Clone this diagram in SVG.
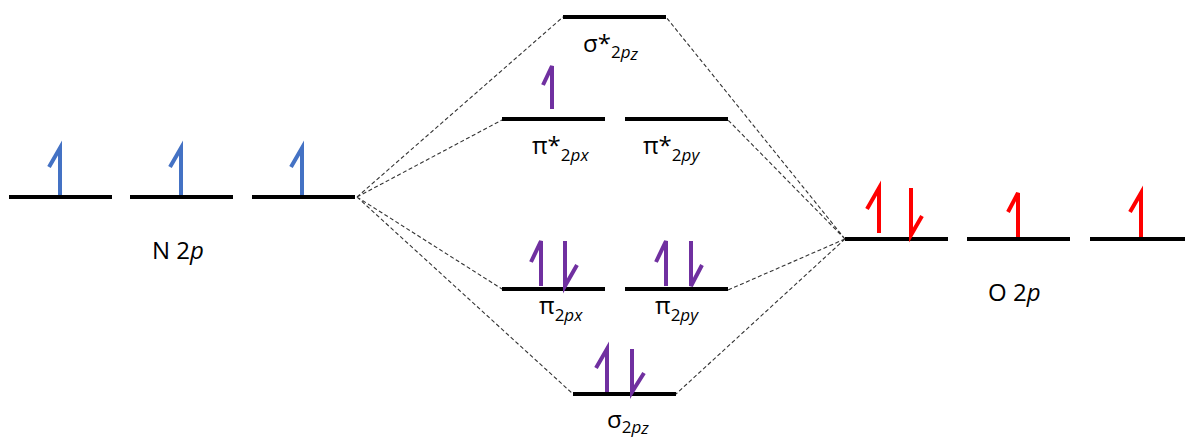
<svg xmlns="http://www.w3.org/2000/svg" width="1185" height="440" viewBox="0 0 1185 440">
<style>
.lvl{stroke:#000;stroke-width:4;fill:none}
.dash{stroke:#333;stroke-width:1.1;stroke-dasharray:4,2.5;fill:none}
.e{fill:none;stroke-width:4;stroke-linejoin:miter;stroke-linecap:butt}
.b{stroke:#4472C4}.p{stroke:#7030A0}.r{stroke:#FF0000}
.t{font-family:"Open Sans","Liberation Sans",sans-serif;font-size:24px;fill:#000}
.s{font-size:17px}
.i{font-style:italic}
</style>
<rect width="1185" height="440" fill="#fff"/>
<g id="connectors">
<path class="dash" d="M357,197 L563,17 M357,197 L502,120 M357,197 L502,289 M357,197 L573,394"/>
<path class="dash" d="M845,239 L666,17 M845,239 L728,120 M845,239 L728,290 M845,239 L676,394"/>
</g>
<g id="N2p">
<path class="lvl" d="M9,197 H112 M130,197 H233 M252,197 H355"/>
<path class="e b" d="M60,195 V148 L49,167 M181,195 V148 L170,167 M302,195 V148 L291,167"/>
<text class="t" x="152" y="259">N 2<tspan class="i">p</tspan></text>
</g>
<g id="O2p">
<path class="lvl" d="M845,239 H948 M967,239 H1070 M1090,239 H1185"/>
<path class="e r" d="M879,233 V188 L867,209 M911,188 V235 L922,216 M1018,237 V193 L1008,212 M1141,237 V193 L1130,212"/>
<text class="t" x="988" y="301">O 2<tspan class="i">p</tspan></text>
</g>
<g id="sigma_star">
<path class="lvl" d="M563,17 H666"/>
<text class="t" x="583" y="52">σ*<tspan class="s" dy="6">2<tspan class="i">p</tspan><tspan class="i" dy="2">z</tspan></tspan></text>
</g>
<g id="pi_star_x">
<path class="lvl" d="M502,119 H605"/>
<path class="e p" d="M552,109 V66 L543,85"/>
<text class="t" x="532" y="154">π*<tspan class="s" dy="7">2<tspan class="i">px</tspan></tspan></text>
</g>
<g id="pi_star_y">
<path class="lvl" d="M625,119 H728"/>
<text class="t" x="643" y="154">π*<tspan class="s" dy="7">2<tspan class="i">py</tspan></tspan></text>
</g>
<g id="pi_x">
<path class="lvl" d="M502,289 H605"/>
<path class="e p" d="M541,286 V241 L531,262 M565,241 V286 L577,265"/>
<text class="t" x="539" y="314">π<tspan class="s" dy="7">2<tspan class="i">px</tspan></tspan></text>
</g>
<g id="pi_y">
<path class="lvl" d="M625,289 H728"/>
<path class="e p" d="M666,286 V241 L656,262 M691,241 V286 L702,265"/>
<text class="t" x="655" y="314">π<tspan class="s" dy="7">2<tspan class="i">py</tspan></tspan></text>
</g>
<g id="sigma">
<path class="lvl" d="M573,394 H676"/>
<path class="e p" d="M607,392 V349 L596,368 M632,349 V392 L644,373"/>
<text class="t" x="607" y="428">σ<tspan class="s" dy="5">2<tspan class="i">p</tspan><tspan class="i" dy="1">z</tspan></tspan></text>
</g>
</svg>
